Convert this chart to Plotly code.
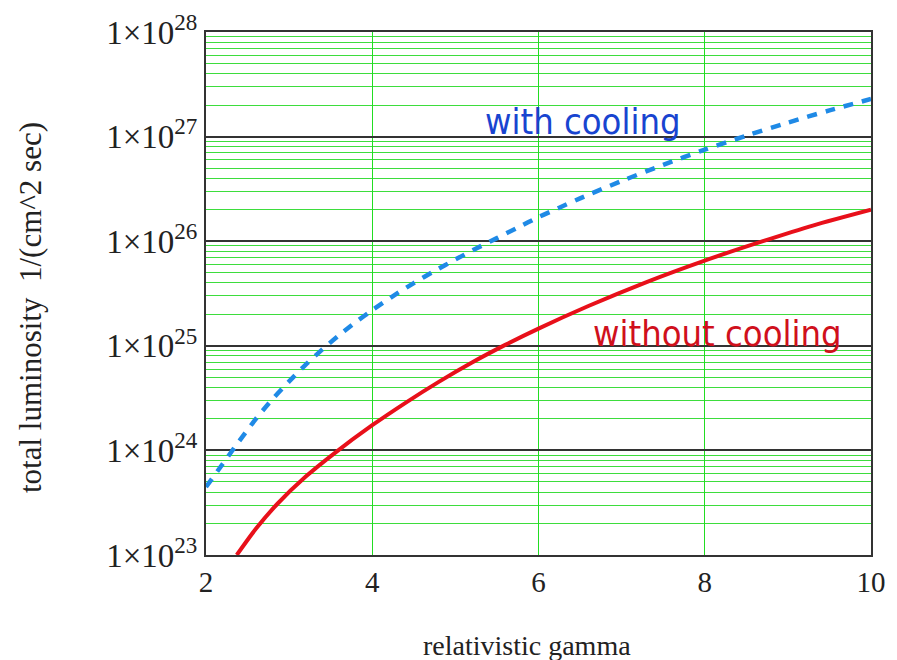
import plotly.graph_objects as go

# with cooling (blue dashed)
gamma_cool = [2.0, 2.2, 2.4, 2.6, 2.8, 3.0, 3.2, 3.4, 3.6, 3.8, 4.0, 4.25, 4.5, 4.75,
              5.0, 5.25, 5.5, 5.75, 6.0, 6.25, 6.5, 7.0, 7.5, 8.0, 8.5, 9.0, 9.5, 10.0]
lum_cool = [4.47e23, 7.41e23, 1.23e24, 2.0e24, 3.09e24, 4.57e24, 6.61e24, 9.23e24,
            1.26e25, 1.68e25, 2.19e25, 2.99e25, 3.98e25, 5.19e25, 6.68e25, 8.51e25,
            1.07e26, 1.35e26, 1.70e26, 2.09e26, 2.57e26, 3.76e26, 5.37e26, 7.50e26,
            1.02e27, 1.36e27, 1.78e27, 2.29e27]

# without cooling (red solid)
gamma_nocool = [2.37, 2.6, 2.86, 3.2, 3.54, 4.0, 4.4, 4.8, 5.2, 5.6, 6.0, 6.6, 7.3, 8.0,
                8.7, 9.3, 10.0]
lum_nocool = [1.0e23, 1.78e23, 3.09e23, 5.62e23, 9.33e23, 1.74e24, 2.85e24, 4.52e24,
              6.92e24, 1.02e25, 1.46e25, 2.4e25, 4.07e25, 6.53e25, 1.0e26, 1.41e26, 2.0e26]

y_tickvals = [1e23, 1e24, 1e25, 1e26, 1e27, 1e28]
y_ticktext = ["1×10<sup>23</sup>", "1×10<sup>24</sup>", "1×10<sup>25</sup>",
              "1×10<sup>26</sup>", "1×10<sup>27</sup>", "1×10<sup>28</sup>"]
x_tickvals = [2, 4, 6, 8, 10]

fig = go.Figure()
fig.add_trace(go.Scatter(x=gamma_cool, y=lum_cool, mode="lines",
                         line=dict(color="#1f8ae6", width=4.5, dash="10px,9px", shape="spline",
                                   smoothing=0.8),
                         showlegend=False))
fig.add_trace(go.Scatter(x=gamma_nocool, y=lum_nocool, mode="lines",
                         line=dict(color="#e8101a", width=4, shape="spline", smoothing=0.8),
                         showlegend=False))

label_font = "DejaVu Sans Condensed, DejaVu Sans"
fig.add_annotation(x=6.53, y=27.14, xref="x", yref="y", text="with cooling",
                   showarrow=False, font=dict(family=label_font, size=36, color="#1844d0"))
fig.add_annotation(x=8.15, y=25.12, xref="x", yref="y", text="without cooling",
                   showarrow=False, font=dict(family=label_font, size=36, color="#d0101c"))

# axis titles
fig.add_annotation(x=519, y=660 - 637, xref="paper", yref="paper", text="relativistic gamma",
                   showarrow=False, xanchor="center", yanchor="middle",
                   font=dict(family="Liberation Serif", size=28, color="#222222"))
fig.add_annotation(x=22, y=660 - 300, xref="paper", yref="paper",
                   text="total luminosity&nbsp; 1/(cm^2 sec)", textangle=-90,
                   showarrow=False, xanchor="center", yanchor="middle",
                   font=dict(family="Liberation Serif", size=31, color="#222222"))

# convert pixel-placed paper annotations to paper fractions
L, R, T, B = 198, 34, 24, 113
pw, ph = 897 - L - R, 660 - T - B
for a in fig.layout.annotations[2:]:
    a.x = (a.x - L) / pw
    a.y = (a.y - B) / ph

fig.update_layout(
    width=897, height=660,
    margin=dict(l=L, r=R, t=T, b=B, autoexpand=False),
    paper_bgcolor="white", plot_bgcolor="white",
    xaxis=dict(range=[2, 10], tickvals=x_tickvals, showgrid=True, gridcolor="#22dd22",
               gridwidth=1.2, zeroline=False, showline=True, linecolor="#333333",
               linewidth=2, mirror=True, ticks="", automargin=False,
               tickfont=dict(family="Liberation Serif", size=29, color="#222222")),
    yaxis=dict(type="log", range=[23, 28], tickvals=y_tickvals, ticktext=y_ticktext,
               showgrid=True, gridcolor="#333333", gridwidth=1.5, zeroline=False,
               showline=True, linecolor="#333333", linewidth=2, mirror=True, ticks="",
               automargin=False,
               tickfont=dict(family="Liberation Serif", size=33, color="#222222"),
               minor=dict(showgrid=True, gridcolor="#3ddd3d", gridwidth=1.2, dtick="D1",
                          ticks="")),
)

fig.write_html("out.html")
